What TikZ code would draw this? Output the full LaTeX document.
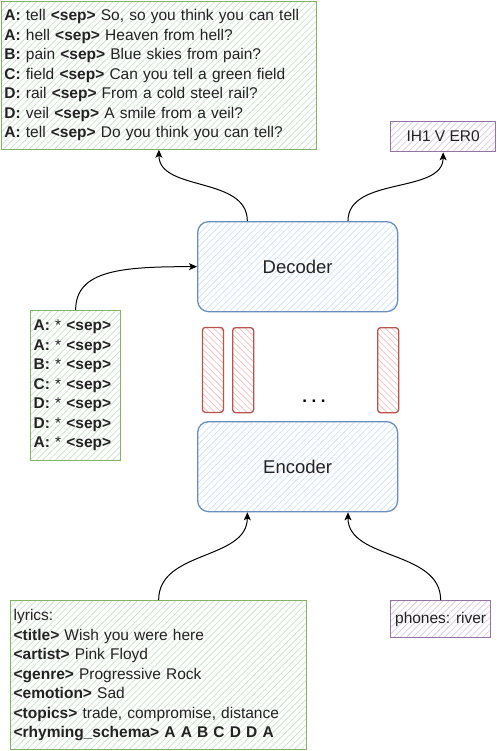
\documentclass[tikz,border=0pt]{standalone}
\usepackage{fontspec}
\setmainfont{Liberation Sans}
\usetikzlibrary{patterns.meta,arrows.meta,calc}
\definecolor{gfill}{HTML}{CFE4CD}
\definecolor{gline}{HTML}{82B366}
\definecolor{bfill}{HTML}{D3E3F9}
\definecolor{bline}{HTML}{6C8EBF}
\definecolor{rfill}{HTML}{F5C4C1}
\definecolor{rline}{HTML}{B85450}
\definecolor{pfill}{HTML}{DCCFE3}
\definecolor{pline}{HTML}{9673A6}
\definecolor{txt}{HTML}{222222}
\tikzset{
  hatch/.style={pattern={Lines[angle=45,distance=4.5pt,line width=0.8pt]}},
  rhatch/.style={pattern={Lines[angle=-45,distance=4.5pt,line width=0.8pt]}},
  gbox/.style={draw=gline,line width=1.3pt,hatch,pattern color=gfill,rectangle,anchor=north west,
    align=left,inner xsep=3pt,inner ysep=0pt,text=txt,font=\fontsize{15.5}{19.5}\selectfont},
  pbox/.style={draw=pline,line width=1.3pt,hatch,pattern color=pfill,rectangle,anchor=north west,
    inner sep=0pt,text=txt,font=\fontsize{15.5}{19.5}\selectfont},
  coder/.style={draw=bline,line width=1.3pt,hatch,pattern color=bfill,rounded corners=11pt,
    anchor=north west,minimum width=200pt,minimum height=90pt,inner sep=0pt,text=txt,
    font=\fontsize{18.5}{22}\selectfont},
  bar/.style={draw=rline,line width=1.3pt,rhatch,pattern color=rfill,rounded corners=3pt,
    anchor=north west,minimum width=21pt,minimum height=85pt,inner sep=0pt},
  arr/.style={-{Stealth[length=8pt,width=7pt,inset=2pt]},line width=1pt,black}
}
\begin{document}
\begin{tikzpicture}[x=1pt,y=-1pt]
\useasboundingbox (0,0) rectangle (496,751);
% top lyrics box
\node[gbox,minimum width=315pt,minimum height=148pt,text width=309pt] (top) at (1,1)
{\textbf{A:} tell \textbf{<sep>} So, so you think you can tell\\
\textbf{A:} hell \textbf{<sep>} Heaven from hell?\\
\textbf{B:} pain \textbf{<sep>} Blue skies from pain?\\
\textbf{C:} field \textbf{<sep>} Can you tell a green field\\
\textbf{D:} rail \textbf{<sep>} From a cold steel rail?\\
\textbf{D:} veil \textbf{<sep>} A smile from a veil?\\
\textbf{A:} tell \textbf{<sep>} Do you think you can tell?};
% phonemes output
\node[pbox,minimum width=105pt,minimum height=30pt] (ih) at (390,121) {IH1 V ER0};
% decoder / encoder
\node[coder] (dec) at (197,221) {Decoder};
\node[coder] (enc) at (197,421) {Encoder};
% red bars
\node[bar] (b1) at (202,327) {};
\node[bar] (b2) at (232,327) {};
\node[bar] (b3) at (377,327) {};
\node[font=\fontsize{17}{19}\selectfont\bfseries,anchor=base] (dots) at (314,402) {.\hspace{4.5pt}.\hspace{4.5pt}.};
% left input
\node[gbox,minimum width=90pt,minimum height=150pt,text width=84pt] (left) at (30,310)
{\textbf{A:} * \textbf{<sep>}\\
\textbf{A:} * \textbf{<sep>}\\
\textbf{B:} * \textbf{<sep>}\\
\textbf{C:} * \textbf{<sep>}\\
\textbf{D:} * \textbf{<sep>}\\
\textbf{D:} * \textbf{<sep>}\\
\textbf{A:} * \textbf{<sep>}};
% bottom lyrics box
\node[gbox,minimum width=296pt,minimum height=149pt,text width=290pt] (bot) at (10,600)
{lyrics:\\
\textbf{<title>} Wish you were here\\
\textbf{<artist>} Pink Floyd\\
\textbf{<genre>} Progressive Rock\\
\textbf{<emotion>} Sad\\
\textbf{<topics>} trade, compromise, distance\\
\textbf{<rhyming\_schema> A A B C D D A}};
% phones input
\node[pbox,minimum width=100pt,minimum height=37pt] (ph) at (390,600) {phones: river};
% anchor points
\coordinate (d1) at ($(dec.north west)!0.25!(dec.north east)$);
\coordinate (d2) at ($(dec.north west)!0.75!(dec.north east)$);
\coordinate (e1) at ($(enc.south west)!0.25!(enc.south east)$);
\coordinate (e2) at ($(enc.south west)!0.75!(enc.south east)$);
% connectors
\draw[arr] (d1) .. controls +(0,-45) and +(0,42) .. (top.south);
\draw[arr] (d2) .. controls +(0,-45) and +(0,42) .. (ih.south);
\draw[arr] (left.north) .. controls +(0,-40) and +(-75,0) .. (dec.west);
\draw[arr] (bot.north) .. controls +(0,-50) and +(0,48) .. (e1);
\draw[arr] (ph.north) .. controls +(0,-50) and +(0,48) .. (e2);
\end{tikzpicture}
\end{document}
